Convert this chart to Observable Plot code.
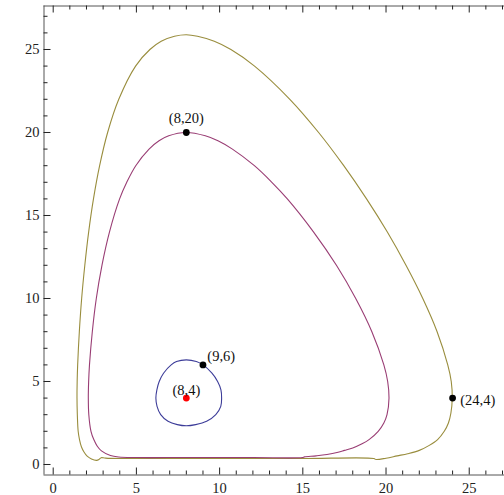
<!DOCTYPE html>
<html><head><meta charset="utf-8">
<script src="https://cdn.jsdelivr.net/npm/d3@7"></script>
<script src="https://cdn.jsdelivr.net/npm/@observablehq/plot@0.6"></script>
<style>body{margin:0;background:#fff}</style></head>
<body><div id="chart"></div>
<script>
// Orbits ([x, y] pairs)
const blueOrbit = [[8,6.3],[7.41,6.2],[7.09,6.0],[6.63,5.5],[6.37,5.0],[6.23,4.5],[6.17,4.0],[6.24,3.5],[6.46,3.0],[6.9,2.6],[7.46,2.4],[8,2.33],[8.56,2.4],[9.22,2.6],[9.77,3.0],[10.07,3.5],[10.12,4.0],[10.08,4.5],[9.88,5.0],[9.54,5.5],[9.0,6.0],[8.6,6.2]];
const purpleOrbit = [[8,20],[6.94,19.8],[6.36,19.5],[5.76,19],[4.96,18],[4.42,17],[3.99,16],[3.38,14],[2.93,12],[2.59,10],[2.35,8],[2.18,6],[2.13,5],[2.11,4],[2.14,3],[2.27,2],[2.44,1.5],[2.65,1.1],[2.9,0.82],[3.44,0.54],[3.94,0.45],[5,0.42],[8,0.42],[12,0.42],[14.98,0.42],[15.1,0.46],[15.8,0.52],[16.45,0.6],[17.12,0.74],[17.5,0.85],[18,1.0],[18.56,1.25],[18.98,1.5],[19.53,2],[19.87,2.5],[20.06,3],[20.18,4],[20.1,5],[19.87,6],[19.15,8],[18.18,10],[17.02,12],[15.65,14],[14.07,16],[13.14,17],[12.09,18],[10.77,19],[9.9,19.5],[9.14,19.8]];
const yellowOrbit = [[8,25.89],[7.29,25.8],[6.49,25.5],[5.81,25],[4.95,24],[3.94,22],[3.27,20],[2.79,18],[2.42,16],[2.13,14],[1.9,12],[1.71,10],[1.57,8],[1.47,6],[1.44,5],[1.43,4],[1.45,3],[1.5,2],[1.58,1.5],[1.7,1.05],[1.85,0.75],[2.04,0.5],[2.3,0.33],[2.6,0.25],[2.75,0.3],[2.88,0.41],[3.1,0.39],[3.44,0.37],[6,0.36],[10,0.36],[15,0.36],[19.27,0.36],[19.4,0.3],[20.0,0.38],[20.67,0.52],[21.3,0.65],[22.0,0.85],[22.6,1.15],[23.1,1.5],[23.5,2.0],[23.75,2.5],[23.9,3.1],[23.98,4],[23.92,5],[23.71,6],[23.07,8],[22.21,10],[21.2,12],[20.08,14],[18.83,16],[17.46,18],[15.95,20],[14.22,22],[12.1,24],[10.68,25],[9.68,25.5],[8.67,25.8]];

const markedPoints = [[8,20],[9,6],[24,4]];
const equilibrium = [[8,4]];
const labelNames = ["(8,20)","(9,6)","(24,4)","(8,4)"];
const labelPoints = [[8,20],[9,6],[24,4],[8,4]];

const xMajor = [0,5,10,15,20,25];
const xMinor = [1,2,3,4,6,7,8,9,11,12,13,14,16,17,18,19,21,22,23,24,26,27];
const yMajor = [0,5,10,15,20,25];
const yMinor = [1,2,3,4,6,7,8,9,11,12,13,14,16,17,18,19,21,22,23,24,26,27];

const xDomain = [-0.553, 27.12];
const yDomain = [-0.633, 27.62];

const colors = {blue:"#3d3d99", purple:"#993d74", yellow:"#998d3d"};
const frameColor = "#555";
const font = "'Liberation Serif', 'DejaVu Serif', serif";

const toObj = a => a.map(([x,y]) => ({x,y}));
const lbl = i => ({x: labelPoints[i][0], y: labelPoints[i][1], t: labelNames[i]});
const txt = {fontSize: 14.5, fontFamily: font, fill: "#111"};

const chart = Plot.plot({
  width: 504, height: 495,
  marginLeft: 43.5, marginRight: 0, marginTop: 5.5, marginBottom: 20.5,
  x: {domain: xDomain},
  y: {domain: yDomain},
  style: {background: "#fff", fontFamily: font},
  marks: [
    // frame
    Plot.ruleY([yDomain[0], yDomain[1]], {y: d => d, stroke: frameColor, strokeWidth: 1}),
    Plot.ruleX([xDomain[0]], {x: d => d, stroke: frameColor, strokeWidth: 1}),
    // left ticks
    Plot.ruleY(yMajor, {y: d => d, x1: xDomain[0], x2: xDomain[0], insetRight: -7, stroke: "#222"}),
    Plot.ruleY(yMinor, {y: d => d, x1: xDomain[0], x2: xDomain[0], insetRight: -4, stroke: "#222"}),
    // bottom ticks
    Plot.ruleX(xMajor, {x: d => d, y1: yDomain[0], y2: yDomain[0], insetTop: -7, stroke: "#222"}),
    Plot.ruleX(xMinor, {x: d => d, y1: yDomain[0], y2: yDomain[0], insetTop: -4, stroke: "#222"}),
    // top ticks
    Plot.ruleX(xMajor, {x: d => d, y1: yDomain[1], y2: yDomain[1], insetBottom: -7, stroke: "#222"}),
    Plot.ruleX(xMinor, {x: d => d, y1: yDomain[1], y2: yDomain[1], insetBottom: -4, stroke: "#222"}),
    // tick labels
    Plot.axisX(xMajor, {anchor: "bottom", tickSize: 0, tickPadding: 7.5, fontSize: 14.5, fontFamily: font, label: null, color: "#222"}),
    Plot.axisY(yMajor, {anchor: "left", tickSize: 0, tickPadding: 4.5, fontSize: 14.5, fontFamily: font, label: null, color: "#222"}),
    // orbits
    Plot.line(toObj(yellowOrbit), {x: "x", y: "y", stroke: colors.yellow, strokeWidth: 1.1, curve: "catmull-rom-closed"}),
    Plot.line(toObj(purpleOrbit), {x: "x", y: "y", stroke: colors.purple, strokeWidth: 1.1, curve: "catmull-rom-closed"}),
    Plot.line(toObj(blueOrbit), {x: "x", y: "y", stroke: colors.blue, strokeWidth: 1.1, curve: "catmull-rom-closed"}),
    // points
    Plot.dot(toObj(markedPoints), {x: "x", y: "y", r: 3.4, fill: "#000", stroke: "none"}),
    Plot.dot(toObj(equilibrium), {x: "x", y: "y", r: 3.4, fill: "#ff0000", stroke: "none"}),
    // labels
    Plot.text([lbl(0)], {x: "x", y: "y", text: "t", dy: -14.4, ...txt}),
    Plot.text([lbl(1)], {x: "x", y: "y", text: "t", dx: 4.4, dy: -8.5, textAnchor: "start", ...txt}),
    Plot.text([lbl(2)], {x: "x", y: "y", text: "t", dx: 7.6, dy: 2.4, textAnchor: "start", ...txt}),
    Plot.text([lbl(3)], {x: "x", y: "y", text: "t", dy: -7.6, ...txt})
  ]
});
document.getElementById("chart").appendChild(chart);
</script>
</body></html>
